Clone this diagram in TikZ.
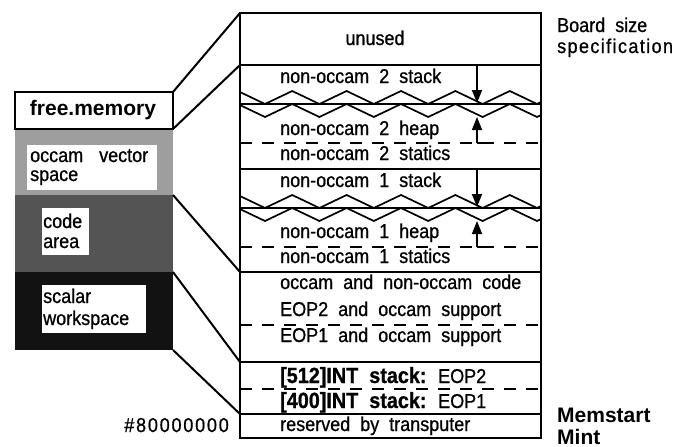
\documentclass[tikz,border=0pt]{standalone}
\usepackage{fontspec}
\setmainfont{Liberation Sans}[WordSpace=2]
\newfontfamily\narrowsans{Liberation Sans}[FakeStretch=0.9, FakeBold=0.8, WordSpace=2]
\usetikzlibrary{arrows.meta}
\definecolor{lightg}{gray}{0.62}
\definecolor{darkg}{gray}{0.33}
\definecolor{blackg}{gray}{0.07}
\begin{document}
\begin{tikzpicture}[x=1pt,y=-1pt,
  txt/.style={anchor=base west, inner sep=0pt, font=\narrowsans\fontsize{20}{22}\selectfont},
  btxt/.style={anchor=base west, inner sep=0pt, font=\fontsize{21}{24}\selectfont\bfseries},
  sep/.style={line width=2pt},
  thicksep/.style={line width=2.6pt},
  thinline/.style={line width=1.5pt},
  dsh/.style={line width=1.6pt, dash pattern=on 12pt off 10pt},
  zz/.style={line width=1.7pt, line join=miter},
  growarr/.style={line width=1.6pt, -{Triangle[length=13pt,width=10pt]}},
  conn/.style={line width=2pt},
  wbox/.style={fill=white},
]
\useasboundingbox (0,0) rectangle (675,447);

% ---------- left column ----------
\fill[lightg] (15,129) rectangle (173,195);
\fill[darkg]  (15,195) rectangle (173,272);
\fill[blackg] (15,272) rectangle (173,350);
\draw[line width=2pt, fill=white] (15,92) rectangle (173,129);
\fill[wbox] (27,145) rectangle (157,190);
\fill[wbox] (42,208) rectangle (89,255);
\fill[wbox] (42,285) rectangle (146,333);

\node[btxt, anchor=base] (fm) at (93,115) {free.memory};
\node[txt] (ovs1) at (30,162) {occam\hspace{16pt}vector};
\node[txt] (ovs2) at (30,181) {space};
\node[txt] (ca1) at (43,228) {code};
\node[txt] (ca2) at (43,248) {area};
\node[txt] (sw1) at (43,303) {scalar};
\node[txt] (sw2) at (43,325) {workspace};

% ---------- right column ----------
% zigzags
\foreach \o in {0,104}{
  \begin{scope}
    \clip (240,80+\o) rectangle (541,125+\o);
    \draw[zz] (210.6,104+\o) \foreach \k in {1,...,13}{ -- ({210.6+27.2*\k},{97.5+6.5*cos(180*\k)+\o}) };
    \draw[zz] (210.6,117+\o) \foreach \k in {1,...,13}{ -- ({210.6+27.2*\k},{110.5+6.5*cos(180*\k)+\o}) };
  \end{scope}
  \draw[thinline] (240,104+\o) -- (541,104+\o);
  \draw[dsh] (240,143+\o) -- (541,143+\o);
  \draw[growarr] (477,65+\o) -- (477,103+\o);
  \draw[growarr] (477,143+\o) -- (477,117+\o);
  \draw[thinline] (477,143+\o) -- (494,143+\o);
}

\draw[thicksep] (240,65) -- (541,65);
\draw[sep] (240,169) -- (541,169);
\draw[sep] (240,272) -- (541,272);
\draw[dsh] (240,325) -- (541,325);
\draw[thicksep] (240,362) -- (541,362);
\draw[dsh] (240,389) -- (541,389);
\draw[thicksep] (240,414) -- (541,414);
\draw[line width=2.6pt] (240,13) rectangle (541,438);

\node[txt, anchor=base] (unused) at (375,45) {unused};
\node[txt] (s2) at (280,83) {non-occam 2 stack};
\node[txt] (h2) at (280,135) {non-occam 2 heap};
\node[txt] (st2) at (280,160) {non-occam 2 statics};
\node[txt] (s1) at (280,187) {non-occam 1 stack};
\node[txt] (h1) at (280,238) {non-occam 1 heap};
\node[txt] (st1) at (280,263) {non-occam 1 statics};
\node[txt] (code) at (280,289) {occam and non-occam code};
\node[txt] (eop2) at (280,316) {EOP2 and occam support};
\node[txt] (eop1) at (280,342) {EOP1 and occam support};
\node[txt] (int512) at (280,383) {{\fontsize{22}{24}\selectfont\bfseries [512]INT stack:} EOP2};
\node[txt] (int400) at (280,408) {{\fontsize{22}{24}\selectfont\bfseries [400]INT stack:} EOP1};
\node[txt] (res) at (280,431) {reserved by transputer};

% ---------- labels ----------
\node[txt] (bs1) at (557,32) {Board size};
\node[txt] (bs2) at (557,53) {\addfontfeature{LetterSpace=7}specification};
\node[btxt] (ms) at (557,422) {Memstart};
\node[btxt] (mint) at (557,444) {Mint};
\node[txt, anchor=base east] (addr) at (229,432) {\addfontfeature{LetterSpace=9}\#80000000};

% ---------- connectors ----------
\coordinate (l1) at (173,92);  \coordinate (r1) at (240,13);
\coordinate (l2) at (173,129); \coordinate (r2) at (240,65);
\coordinate (l3) at (173,195); \coordinate (r3) at (240,272);
\coordinate (l4) at (173,272); \coordinate (r4) at (240,362);
\coordinate (l5) at (173,350); \coordinate (r5) at (240,414);
\draw[conn] (l1) -- (r1);
\draw[conn] (l2) -- (r2);
\draw[conn] (l3) -- (r3);
\draw[conn] (l4) -- (r4);
\draw[conn] (l5) -- (r5);
\end{tikzpicture}
\end{document}
